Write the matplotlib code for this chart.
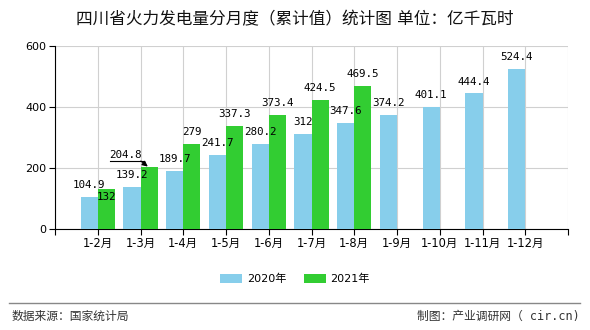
import matplotlib
matplotlib.use("Agg")
import matplotlib.pyplot as plt
from matplotlib.transforms import offset_copy
import numpy as np

plt.rcParams['font.family'] = ['DejaVu Sans', 'Noto Sans CJK SC']

title = "四川省火力发电量分月度（累计值）统计图 单位：亿千瓦时"
months = ["1-2月", "1-3月", "1-4月", "1-5月", "1-6月", "1-7月", "1-8月",
          "1-9月", "1-10月", "1-11月", "1-12月"]
v2020 = [104.9, 139.2, 189.7, 241.7, 280.2, 312, 347.6, 374.2, 401.1, 444.4, 524.4]
v2021 = [132, 204.8, 279, 337.3, 373.4, 424.5, 469.5]
lbl2020 = ["104.9", "139.2", "189.7", "241.7", "280.2", "312", "347.6", "374.2", "401.1", "444.4", "524.4"]
lbl2021 = ["132", "204.8", "279", "337.3", "373.4", "424.5", "469.5"]
series_names = ["2020年", "2021年"]
c20 = "#87CEEB"
c21 = "#32CD32"

fig = plt.figure(figsize=(5.9, 3.3), dpi=100)
ax = fig.add_axes([55/590, 1-229/330, (568-55)/590, (229-46)/330])

x = np.arange(len(months))
w = 0.4
ax.bar(x - w/2, v2020, width=w, color=c20, zorder=3, label=series_names[0])
x21 = np.arange(len(v2021))
ax.bar(x21 + w/2, v2021, width=w, color=c21, zorder=3, label=series_names[1])

mono = ['DejaVu Sans Mono', 'Noto Sans CJK SC']
fs_lbl = 7.8
for xi, v, t in zip(x, v2020, lbl2020):
    ax.annotate(t, (xi - w/2, v), xytext=(0, 5), textcoords='offset points',
                ha='center', va='bottom', fontsize=fs_lbl, family=mono, zorder=5)
for i, (xi, v, t) in enumerate(zip(x21, v2021, lbl2021)):
    if i == 0:
        ax.annotate(t, (xi + w/2, v), xytext=(0, -6), textcoords='offset points',
                    ha='center', va='center', fontsize=fs_lbl, family=mono, zorder=5)
    elif i == 1:
        ax.annotate(t, (xi + w/2, v), xytext=(-17, 8), textcoords='offset points',
                    ha='center', va='center', fontsize=fs_lbl, family=mono, zorder=5)
        trans = offset_copy(ax.transData, fig=fig, x=0, y=4, units='points')
        ax.plot([xi - 0.72, xi + 0.06], [v, v], color='black', lw=0.8,
                transform=trans, zorder=5)
        ax.annotate("", xy=(xi + 0.17, v), xytext=(-5, 4), textcoords='offset points',
                    arrowprops=dict(arrowstyle='-|>', color='black', lw=0.8,
                                    mutation_scale=8, shrinkA=0, shrinkB=0), zorder=5)
    else:
        ax.annotate(t, (xi + w/2, v), xytext=(0, 5), textcoords='offset points',
                    ha='center', va='bottom', fontsize=fs_lbl, family=mono, zorder=5)

ax.set_xlim(-1, 11)
ax.set_ylim(0, 600)
ax.set_xticks(np.arange(-1, 12))
ax.set_xticklabels([""] + months + [""], fontsize=8.3)
ax.set_yticks([0, 200, 400, 600])
ax.set_yticklabels(["0", "200", "400", "600"], fontsize=8)
ax.grid(True, color="#d0d0d0", lw=0.8, zorder=0)
for s in ["top", "right"]:
    ax.spines[s].set_visible(False)
ax.spines["left"].set_color("black")
ax.spines["bottom"].set_color("black")
ax.tick_params(axis='both', length=4, width=0.8, color='black', pad=2)

fig.text(0.5, 1-19/330, title, ha='center', va='center', fontsize=12, color='#111')

leg = fig.legend(loc='center', bbox_to_anchor=(0.5, 1-279/330), ncol=2, frameon=False,
                 fontsize=8, handlelength=2.0, handleheight=0.8, columnspacing=1.6,
                 handletextpad=0.4)

fig.add_artist(plt.Line2D([9/590, 580/590], [1-303/330, 1-303/330], color='#888888', lw=1))
fig.text(12/590, 1-316/330, "数据来源：国家统计局", ha='left', va='center', fontsize=8.5, color='#333')
fig.text(580/590, 1-316/330, "制图：产业调研网（ cir.cn)", ha='right', va='center', fontsize=8.5,
         color='#333', family=mono)

fig.savefig("out.png", dpi=100)
